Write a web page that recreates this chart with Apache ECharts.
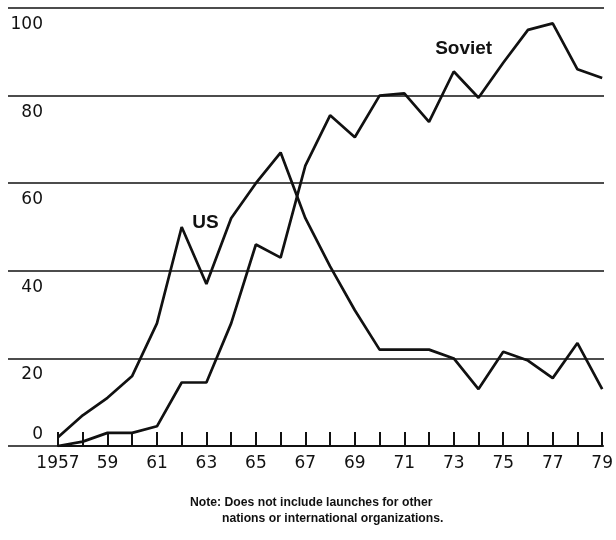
<!DOCTYPE html>
<html>
<head>
<meta charset="utf-8">
<script src="https://cdn.jsdelivr.net/npm/echarts@6/dist/echarts.min.js"></script>
<style>
  html, body { margin: 0; padding: 0; background: #fff; }
  #chart { width: 616px; height: 540px; }
</style>
</head>
<body>
<div id="chart"></div>
<script>
const years = [1957,1958,1959,1960,1961,1962,1963,1964,1965,1966,1967,1968,1969,1970,1971,1972,1973,1974,1975,1976,1977,1978,1979];
const usLaunches = [2, 7, 11, 16, 28, 50, 37, 52, 60, 67, 52, 41, 31, 22, 22, 22, 20, 13, 21.5, 19.5, 15.5, 23.5, 13];
const sovietLaunches = [0, 1, 3, 3, 4.5, 14.5, 14.5, 28, 46, 43, 64, 75.5, 70.5, 80, 80.5, 74, 85.5, 79.5, 87.5, 95, 96.5, 86, 84];
const yTicks = [0, 20, 40, 60, 80, 100];
const noteLines = ['Note: Does not include launches for other', 'nations or international organizations.'];

const ink = '#111';
const labelFont = 'DejaVu Sans';

const chart = echarts.init(document.getElementById('chart'), null, { renderer: 'canvas' });

chart.setOption({
  backgroundColor: '#fff',
  animation: false,
  title: [
    { text: noteLines[0], left: 190, top: 497, padding: 0,
      textStyle: { fontSize: 12.2, fontWeight: 'bold', fontFamily: 'Liberation Sans', color: ink } },
    { text: noteLines[1], left: 222, top: 513, padding: 0,
      textStyle: { fontSize: 12.2, fontWeight: 'bold', fontFamily: 'Liberation Sans', color: ink } }
  ],
  grid: [
    { left: 8, right: 12, top: 8, bottom: 94 },
    { left: 58, right: 12, top: 8, bottom: 94 }
  ],
  xAxis: [
    { type: 'value', gridIndex: 0, min: 0, max: 1, show: false },
    {
      type: 'value', gridIndex: 1, min: years[0], max: years[years.length - 1], interval: 1,
      splitLine: { show: false },
      axisLine: { show: true, lineStyle: { color: ink, width: 2 } },
      axisTick: { show: true, inside: true, length: 14, lineStyle: { color: ink, width: 2 } },
      axisLabel: {
        margin: 9,
        fontFamily: labelFont, fontSize: 17, color: ink,
        showMinLabel: true, showMaxLabel: true,
        formatter: function (v) {
          if ((v - years[0]) % 2 !== 0) return '';
          return v === years[0] ? String(v) : String(v).slice(2);
        }
      }
    }
  ],
  yAxis: [
    {
      type: 'value', gridIndex: 0, position: 'left', min: yTicks[0], max: yTicks[yTicks.length - 1], interval: yTicks[1] - yTicks[0],
      axisLine: { show: false }, axisTick: { show: false },
      splitLine: { show: true, lineStyle: { color: ink, width: 1.5 } },
      axisLabel: {
        inside: true, align: 'right', margin: 35, verticalAlign: 'top', padding: [8, 0, 0, 0],
        fontFamily: labelFont, fontSize: 17, color: ink,
        formatter: function (v) { return v === 0 ? '' : String(v); }
      }
    },
    {
      type: 'value', gridIndex: 0, position: 'left', offset: 0, min: yTicks[0], max: yTicks[yTicks.length - 1], interval: yTicks[yTicks.length - 1],
      axisLine: { show: false }, axisTick: { show: false }, splitLine: { show: false },
      axisLabel: {
        inside: true, align: 'right', margin: 35, verticalAlign: 'bottom', padding: [0, 0, 3, 0],
        fontFamily: labelFont, fontSize: 17, color: ink,
        formatter: function (v) { return v === 0 ? '0' : ''; }
      }
    },
    { type: 'value', gridIndex: 1, min: yTicks[0], max: yTicks[yTicks.length - 1], show: false }
  ],
  series: [
    {
      name: 'US', type: 'line', xAxisIndex: 1, yAxisIndex: 2,
      data: years.map((y, i) => [y, usLaunches[i]]),
      symbol: 'none', lineStyle: { color: ink, width: 2.7 },
      markPoint: {
        symbol: 'circle', symbolSize: 0,
        label: { show: true, position: 'inside', formatter: 'US', fontFamily: 'Liberation Sans', fontWeight: 'bold', fontSize: 19, color: ink },
        data: [{ coord: [1962.96, 50.9] }]
      }
    },
    {
      name: 'Soviet', type: 'line', xAxisIndex: 1, yAxisIndex: 2,
      data: years.map((y, i) => [y, sovietLaunches[i]]),
      symbol: 'none', lineStyle: { color: ink, width: 2.7 },
      markPoint: {
        symbol: 'circle', symbolSize: 0,
        label: { show: true, position: 'inside', formatter: 'Soviet', fontFamily: 'Liberation Sans', fontWeight: 'bold', fontSize: 19, color: ink },
        data: [{ coord: [1973.4, 90.6] }]
      }
    }
  ]
});
</script>
</body>
</html>
